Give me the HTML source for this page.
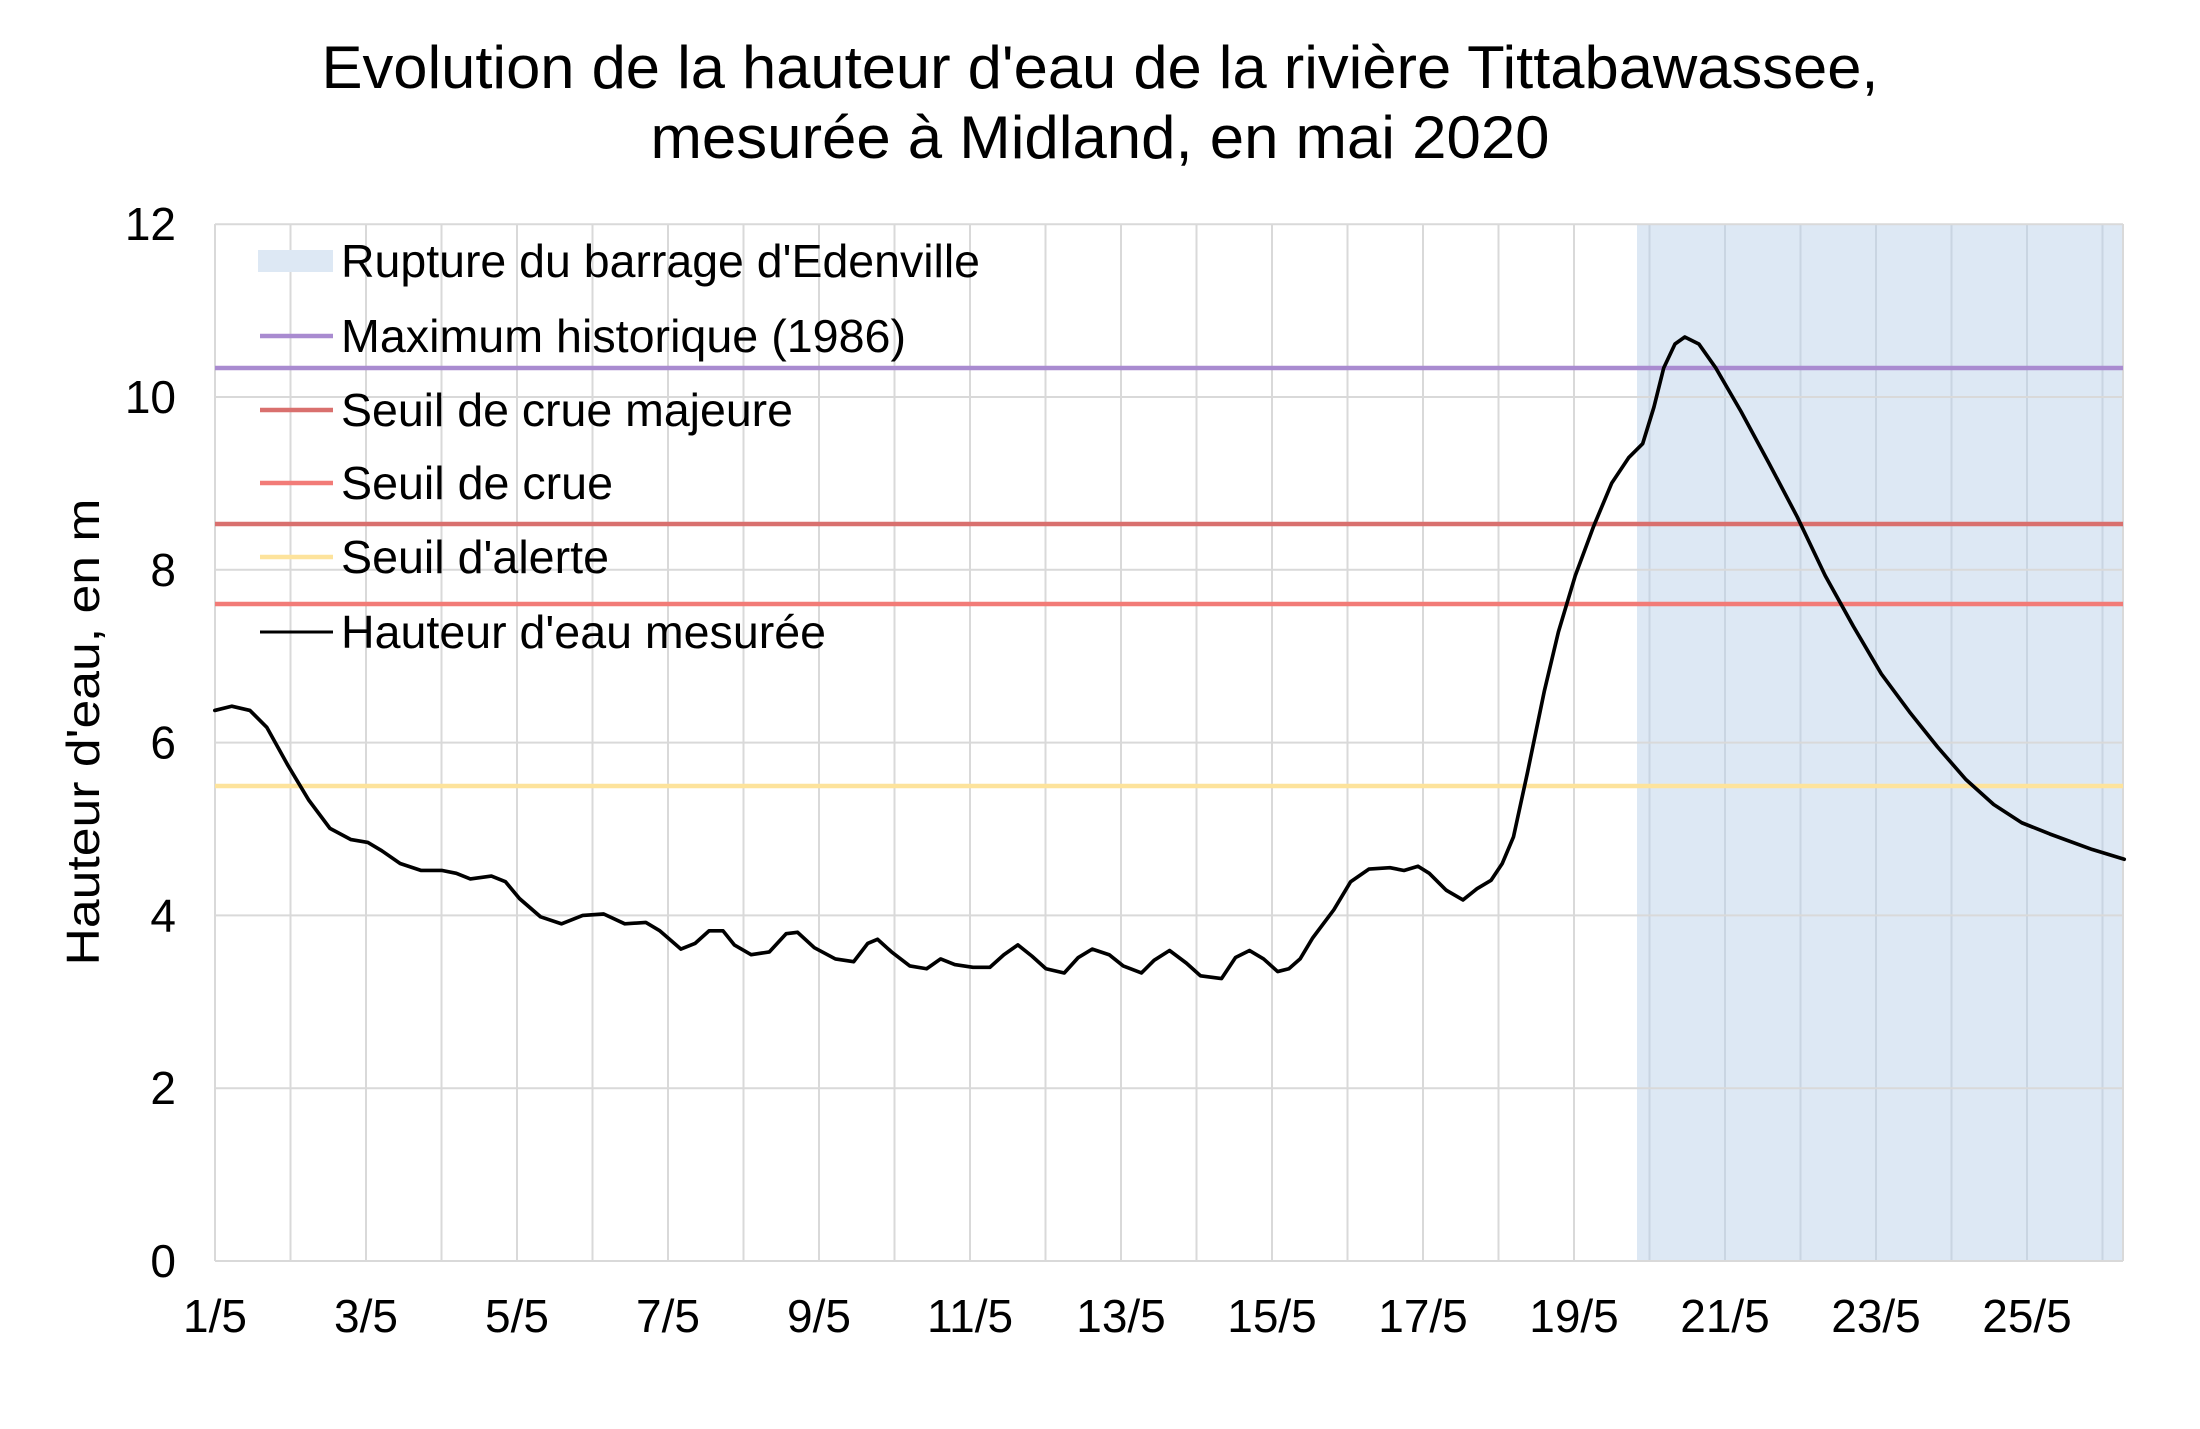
<!DOCTYPE html>
<html><head><meta charset="utf-8">
<style>
html,body{margin:0;padding:0;background:#fff;}
svg{display:block;}
text{font-family:"Liberation Sans",Arial,sans-serif;fill:#000;}
</style></head>
<body>
<svg width="2200" height="1429" viewBox="0 0 2200 1429" xmlns="http://www.w3.org/2000/svg">
<rect width="2200" height="1429" fill="#fff"/>
<text x="1100" y="88" font-size="60" text-anchor="middle" textLength="1557" lengthAdjust="spacingAndGlyphs">Evolution de la hauteur d'eau de la rivière Tittabawassee,</text>
<text x="1100" y="158" font-size="60" text-anchor="middle" textLength="899" lengthAdjust="spacingAndGlyphs">mesurée à Midland, en mai 2020</text>
<rect x="1637" y="224" width="486" height="1037" fill="#dde8f4"/>
<g id="grid" stroke="#d9d9d9" stroke-width="2" fill="none"></g>
<g id="labels" font-size="46"></g>
<line x1="215" x2="2123" y1="368" y2="368" stroke="#a98bd0" stroke-width="4.5"/>
<line x1="215" x2="2123" y1="524" y2="524" stroke="#d9706e" stroke-width="4.5"/>
<line x1="215" x2="2123" y1="604" y2="604" stroke="#f27b77" stroke-width="4.5"/>
<line x1="215" x2="2123" y1="786" y2="786" stroke="#fde39c" stroke-width="4.5"/>
<rect x="258" y="250" width="75" height="22" fill="#dde8f4"/>
<line x1="260" x2="333" y1="336" y2="336" stroke="#a98bd0" stroke-width="4.5"/>
<line x1="260" x2="333" y1="410" y2="410" stroke="#d9706e" stroke-width="4.5"/>
<line x1="260" x2="333" y1="483" y2="483" stroke="#f27b77" stroke-width="4.5"/>
<line x1="260" x2="333" y1="557" y2="557" stroke="#fde39c" stroke-width="4.5"/>
<line x1="260" x2="333" y1="632" y2="632" stroke="#000" stroke-width="3"/>
<g font-size="46">
<text x="341" y="277" textLength="639" lengthAdjust="spacingAndGlyphs">Rupture du barrage d'Edenville</text>
<text x="341" y="352" textLength="565" lengthAdjust="spacingAndGlyphs">Maximum historique (1986)</text>
<text x="341" y="426" textLength="452" lengthAdjust="spacingAndGlyphs">Seuil de crue majeure</text>
<text x="341" y="499" textLength="272" lengthAdjust="spacingAndGlyphs">Seuil de crue</text>
<text x="341" y="573" textLength="268" lengthAdjust="spacingAndGlyphs">Seuil d'alerte</text>
<text x="341" y="648" textLength="485" lengthAdjust="spacingAndGlyphs">Hauteur d'eau mesurée</text>
</g>
<text transform="translate(99,732) rotate(-90)" font-size="46" text-anchor="middle" textLength="467" lengthAdjust="spacingAndGlyphs">Hauteur d'eau, en m</text>
<g transform="scale(1.404)">
<polyline fill="none" stroke="#000" stroke-width="2.6" stroke-linejoin="round" stroke-linecap="round" points="153,506 165,503 178,506 190,518 205,545 220,570 235,590 250,598 262,600 272,606 285,615 300,620 315,620 325,622 335,626 350,624 360,628 370,640 385,653 400,658 415,652 430,651 445,658 460,657 470,663 485,676 495,672 505,663 515,663 523,673 535,680 548,678 560,665 568,664 580,675 595,683 608,685 618,672 625,669 635,678 648,688 660,690 670,683 680,687 693,689 705,689 715,680 725,673 735,681 745,690 758,693 768,682 778,676 790,680 800,688 813,693 822,684 833,677 845,686 855,695 870,697 880,682 890,677 900,683 910,692 918,690 926,683 935,668 950,648 962,628 975,619 990,618 1000,620 1010,617 1018,622 1030,634 1042,641 1052,633 1062,627 1070,615 1078,596 1088,550 1100,492 1110,450 1122,410 1135,375 1148,344 1160,326 1170,316 1178,290 1185,262 1193,245 1200,240 1210,245 1222,262 1240,293 1260,330 1280,368 1300,410 1320,446 1340,480 1360,507 1380,532 1400,555 1420,573 1440,586 1460,594 1490,605 1513,612"/>
</g>
<script>
(function(){
var ns="http://www.w3.org/2000/svg";
var g=document.getElementById('grid'),L=document.getElementById('labels');
function el(t,a,p,txt){var e=document.createElementNS(ns,t);for(var k in a)e.setAttribute(k,a[k]);if(txt!==undefined)e.textContent=txt;p.appendChild(e);return e;}
var x0=215,dx=75.5,yb=1261,dy=86.4;
for(var d=0;d<=25;d++){var x=x0+d*dx;el('line',{x1:x,x2:x,y1:224,y2:1261,stroke:(x>1637?'#c9d5e2':'#d9d9d9')},g);}
el('line',{x1:2123,x2:2123,y1:224,y2:1261},g).setAttribute('stroke','#d9d9d9');
for(var v=0;v<=12;v+=2){var y=yb-v*dy;el('line',{x1:215,x2:2123,y1:y,y2:y},g);
 el('text',{x:176,y:y+16,'text-anchor':'end'},L,String(v));}
for(var d=0;d<=24;d+=2){el('text',{x:x0+d*dx,y:1332,'text-anchor':'middle'},L,(d+1)+'/5');}
})();
</script>
</svg>
</body></html>
